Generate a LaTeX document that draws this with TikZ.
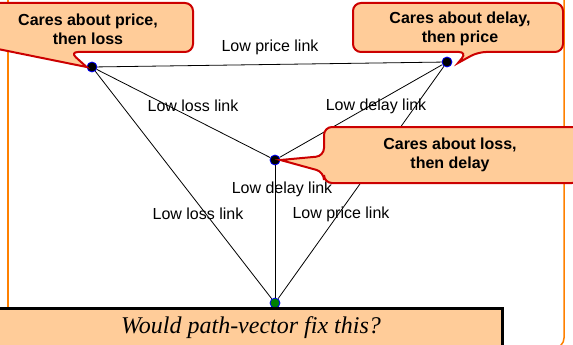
\documentclass[tikz,border=0pt]{standalone}
\usepackage{fontspec}
\setmainfont{Liberation Sans}
\newfontfamily\serifit{Liberation Serif}
\definecolor{calloutfill}{RGB}{255,204,153}
\definecolor{calloutred}{RGB}{204,0,0}
\definecolor{frameorange}{RGB}{255,128,0}
\definecolor{dotgreen}{RGB}{0,128,0}

\begin{document}
\begin{tikzpicture}[x=1pt,y=-1pt,
  router/.style={shape=circle, inner sep=0pt, minimum size=10pt, draw=blue, line width=0.8pt, fill=black},
  link/.style={line width=0.8pt},
  linklabel/.style={font=\fontsize{16}{19}\selectfont, inner sep=0pt},
  calloutbox/.style={fill=calloutfill, draw=calloutred, line width=2pt, rounded corners=8pt},
  callouttext/.style={font=\fontsize{16}{19}\selectfont\bfseries, align=center, inner sep=0pt}]
\useasboundingbox (0,0) rectangle (573,345);
\clip (0,0) rectangle (573,345);

% slide frame
\draw[frameorange, line width=1.5pt, rounded corners=10pt] (8,-5) -- (8,350);
\draw[frameorange, line width=1.5pt, rounded corners=10pt] (564,-5) -- (564,348) -- (540,348);

% routers
\path (92,67) node (A) [router] {};
\path (447,62) node (B) [router] {};
\path (275,160) node (C) [router] {};
\path (275,303) node (D) [router, fill=dotgreen] {};

% links
\draw[link] (A) -- (B);
\draw[link] (A) -- (C);
\draw[link] (B) -- (C);
\draw[link] (C) -- (D);
\draw[link] (A) -- (D);
\draw[link] (B) -- (D);

\path (270,47) node (lAB) [linklabel] {Low price link};
\path (193,106) node (lAC) [linklabel] {Low loss link};
\path (376,106) node (lBC) [linklabel] {Low delay link};
\path (282,189) node (lCD) [linklabel] {Low delay link};
\path (198,214) node (lAD) [linklabel] {Low loss link};
\path (341,214) node (lBD) [linklabel] {Low price link};

% callouts
\filldraw[calloutbox] (-12,3) -- (193,3) -- (193,52) -- (70,52) [sharp corners] -- (A.west) [rounded corners=8pt] -- (-12,47) -- cycle;
\path (88,29) node (prefA) [callouttext] {Cares about price,\\then loss};

\filldraw[calloutbox] (353,3) -- (563,3) -- (563,52) -- (478,52) [sharp corners] -- (458,63) [rounded corners=8pt] -- (467,52) -- (353,52) -- cycle;
\path (460,29) node (prefB) [callouttext] {Cares about delay,\\then price};

\filldraw[calloutbox] (324,127) -- (580,127) -- (580,183) -- (324,183) -- (324,172) [sharp corners] -- (C.east) [rounded corners=8pt] -- (324,156) -- cycle;
\path (450,155) node (prefC) [callouttext] {Cares about loss,\\then delay};

% question box
\path (-5,308) coordinate (qa);
\path (502,360) coordinate (qb);
\filldraw[fill=calloutfill, draw=black, line width=3pt] (qa) rectangle (qb);
\path (251,328) node (question) [font=\serifit\itshape\fontsize{24}{28}\selectfont, inner sep=0pt] {Would path-vector fix this?};

\end{tikzpicture}
\end{document}
